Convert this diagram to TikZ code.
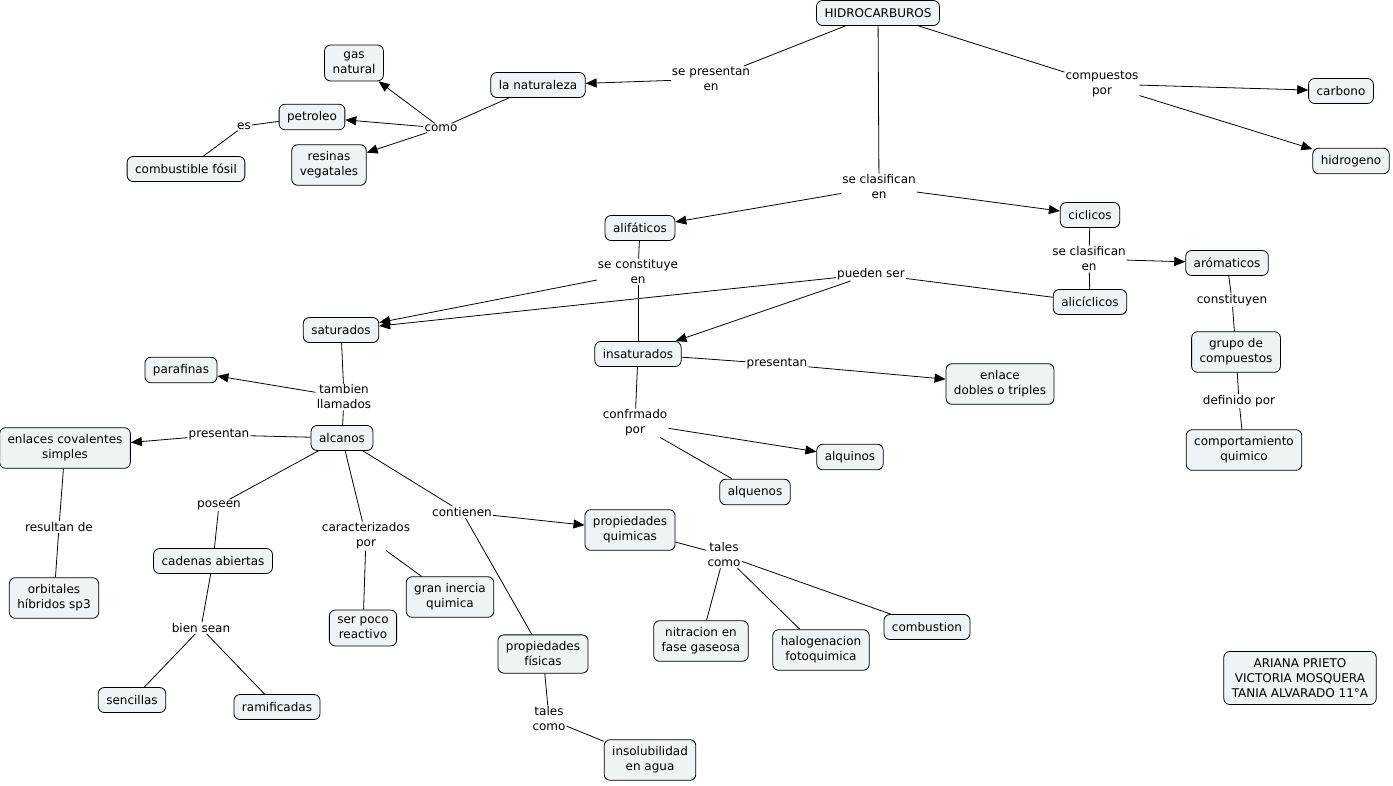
\documentclass[tikz,border=0pt]{standalone}
\usepackage{fontspec}
\setmainfont{DejaVu Sans}
\usetikzlibrary{arrows.meta}
\definecolor{cmapfill}{RGB}{238,243,246}
\begin{document}
\begin{tikzpicture}[x=1pt,y=-1pt,
    concept/.style={draw=black,fill=cmapfill,rounded corners=6pt,align=center,
      inner xsep=8pt,inner ysep=7pt,minimum height=25pt,line width=0.8pt,
      font=\fontsize{12}{15}\selectfont},
    phrase/.style={align=center,inner sep=1pt,font=\fontsize{12}{15}\selectfont},
    link/.style={line width=0.8pt},
    linkto/.style={line width=0.8pt,-{Triangle[length=11pt,width=9pt]}}]
  \useasboundingbox[fill=white] (0,0) rectangle (1393,785);
  % concepts
  \node[concept] (hidro) at (878,13) {HIDROCARBUROS};
  \node[concept] (natur) at (538,85) {la naturaleza};
  \node[concept] (gas) at (354,63) {gas\\natural};
  \node[concept] (petro) at (312,117) {petroleo};
  \node[concept] (resinas) at (329,165) {resinas\\vegatales};
  \node[concept] (combfos) at (186,169) {combustible fósil};
  \node[concept] (carbono) at (1341,91) {carbono};
  \node[concept] (hidrog) at (1351,161) {hidrogeno};
  \node[concept] (alif) at (640,228) {alifáticos};
  \node[concept] (cicl) at (1090,215) {ciclicos};
  \node[concept] (arom) at (1227,263) {arómaticos};
  \node[concept] (alic) at (1090,302) {alicíclicos};
  \node[concept] (satur) at (341,330) {saturados};
  \node[concept] (insat) at (638,354) {insaturados};
  \node[concept] (paraf) at (181,370) {parafinas};
  \node[concept] (enlace) at (1000,384) {enlace\\dobles o triples};
  \node[concept] (grupo) at (1236,352) {grupo de\\compuestos};
  \node[concept] (comport) at (1244,450) {comportamiento\\quimico};
  \node[concept] (coval) at (65,448) {enlaces covalentes\\simples};
  \node[concept] (alcanos) at (342,438) {alcanos};
  \node[concept] (alquinos) at (850,457) {alquinos};
  \node[concept] (alquenos) at (755,492) {alquenos};
  \node[concept] (pquim) at (630,530) {propiedades\\quimicas};
  \node[concept] (cadenas) at (213,561) {cadenas abiertas};
  \node[concept] (orbit) at (54,598) {orbitales\\híbridos sp3};
  \node[concept] (inercia) at (450,597) {gran inercia\\quimica};
  \node[concept] (reactivo) at (363,628) {ser poco\\reactivo};
  \node[concept] (pfis) at (543,654) {propiedades\\físicas};
  \node[concept] (nitra) at (701,641) {nitracion en\\fase gaseosa};
  \node[concept] (halog) at (821,650) {halogenacion\\fotoquimica};
  \node[concept] (combust) at (927,627) {combustion};
  \node[concept] (sencil) at (132,700) {sencillas};
  \node[concept] (ramif) at (277,707) {ramificadas};
  \node[concept] (insolub) at (650,760) {insolubilidad\\en agua};
  \node[concept] (autoras) at (1300,678) {ARIANA PRIETO\\VICTORIA MOSQUERA\\TANIA ALVARADO 11°A};
  % linking phrases
  \node[phrase] (presen) at (711,79) {se presentan\\en};
  \node[phrase] (como) at (441,128) {como};
  \node[phrase] (es) at (244,126) {es};
  \node[phrase] (compu) at (1102,84) {compuestos\\por};
  \node[phrase] (clasif) at (879,187) {se clasifican\\en};
  \node[phrase] (constit) at (638,272) {se constituye\\en};
  \node[phrase] (pueden) at (871,274) {pueden ser};
  \node[phrase] (clasifb) at (1089,259) {se clasifican\\en};
  \node[phrase] (constiy) at (1232,300) {constituyen};
  \node[phrase] (defin) at (1239,401) {definido por};
  \node[phrase] (tambien) at (344,397) {tambien\\llamados};
  \node[phrase] (presa) at (219,435) {presentan};
  \node[phrase] (presb) at (777,364) {presentan};
  \node[phrase] (confr) at (635,423) {confrmado\\por};
  \node[phrase] (poseen) at (219,505) {poseen};
  \node[phrase] (caract) at (366,536) {caracterizados\\por};
  \node[phrase] (contien) at (462,512) {contienen};
  \node[phrase] (result) at (59,527) {resultan de};
  \node[phrase] (bien) at (201,628) {bien sean};
  \node[phrase] (talesa) at (724,555) {tales\\como};
  \node[phrase] (talesb) at (549,719) {tales\\como};
  % plain lines
  \begin{scope}[link]
    \draw (hidro) to (presen);
    \draw (hidro) to (compu);
    \draw (hidro) to (clasif);
    \draw (natur) to (como);
    \draw (petro) to (es);
    \draw (es) to (combfos);
    \draw (alif) to (constit);
    \draw (constit) to (insat);
    \draw (cicl) to (clasifb);
    \draw (clasifb) to (alic);
    \draw (alic) to (pueden);
    \draw (arom) to (constiy);
    \draw (constiy) to (grupo);
    \draw (grupo) to (defin);
    \draw (defin) to (comport);
    \draw (satur) to (tambien);
    \draw (tambien) to (alcanos);
    \draw (alcanos) to (presa);
    \draw (coval) to (result);
    \draw (result) to (orbit);
    \draw (alcanos) to (poseen);
    \draw (poseen) to (cadenas);
    \draw (cadenas) to (bien);
    \draw (bien) to (sencil);
    \draw (bien) to (ramif);
    \draw (alcanos) to (caract);
    \draw (caract) to (reactivo);
    \draw (caract) to (inercia);
    \draw (alcanos) to (contien);
    \draw (contien) to (pfis);
    \draw (pquim) to (talesa);
    \draw (talesa) to (nitra);
    \draw (talesa) to (halog);
    \draw (talesa) to (combust);
    \draw (pfis) to (talesb);
    \draw (talesb) to (insolub);
    \draw (insat) to (presb);
    \draw (insat) to (confr);
    \draw (confr) to (alquenos);
  \end{scope}
  % arrows
  \begin{scope}[linkto]
    \draw (presen) to (natur);
    \draw (compu) to (carbono);
    \draw (compu) to (hidrog);
    \draw (clasif) to (alif);
    \draw (clasif) to (cicl);
    \draw (como) to (gas);
    \draw (como) to (petro);
    \draw (como) to (resinas);
    \draw (constit) to (satur);
    \draw (pueden) to (satur);
    \draw (pueden) to (insat);
    \draw (clasifb) to (arom);
    \draw (tambien) to (paraf);
    \draw (presa) to (coval);
    \draw (contien) to (pquim);
    \draw (presb) to (enlace);
    \draw (confr) to (alquinos);
  \end{scope}
\end{tikzpicture}
\end{document}
